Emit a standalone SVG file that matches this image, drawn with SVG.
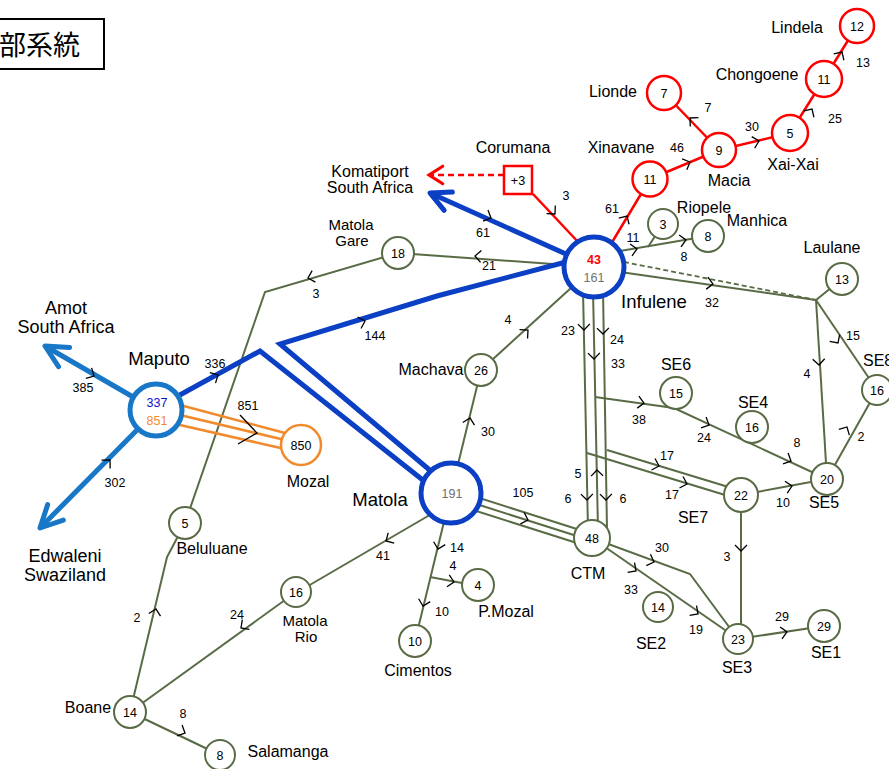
<svg xmlns="http://www.w3.org/2000/svg" xmlns:xlink="http://www.w3.org/1999/xlink" width="889" height="769" viewBox="0 0 889 769">
<style>
  text { font-family: "Liberation Sans", Arial, sans-serif; fill: #000; }
  .e { stroke: #596b45; stroke-width: 2; fill: none; }
  .ed { stroke: #596b45; stroke-width: 1.8; fill: none; stroke-dasharray: 5 3; }
  .r { stroke: #ff0000; stroke-width: 2.5; fill: none; }
  .rd { stroke: #ff0000; stroke-width: 2.5; fill: none; stroke-dasharray: 6 4; }
  .b { stroke: #0b3fc4; stroke-width: 5; fill: none; stroke-linejoin: miter; }
  .lb { stroke: #1877c6; stroke-width: 5; fill: none; }
  .o { stroke: #f28a2c; stroke-width: 2.5; fill: none; }
  .ch { stroke: #000; stroke-width: 1.3; fill: none; }
  .n circle { fill: #fff; stroke: #596b45; stroke-width: 2; }
  .rn circle, .rn rect { fill: #fff; stroke: #ff0000; stroke-width: 2.5; }
  .hub circle { fill: #fff; stroke: #0b3fc4; stroke-width: 5; }
  .cn { font-size: 12.5px; text-anchor: middle; }
  .num { font-size: 12.5px; text-anchor: middle; }
  .lbl { font-size: 16px; text-anchor: middle; }
  .lbl2 { font-size: 15px; text-anchor: middle; }
  .big { font-size: 18.5px; text-anchor: middle; }
  .big2 { font-size: 18px; text-anchor: middle; }
</style>
<defs>
  <path id="ch" class="ch" d="M-6,-6 L0,0 L-6,6"/>
  <marker id="hb" markerUnits="userSpaceOnUse" markerWidth="40" markerHeight="40" viewBox="-25 -20 30 40" refX="0" refY="0" orient="auto">
    <path d="M-20,-10 L0,0 L-20,10" fill="none" stroke="#0b3fc4" stroke-width="5" stroke-linecap="round" stroke-linejoin="round"/>
  </marker>
  <marker id="hlb" markerUnits="userSpaceOnUse" markerWidth="40" markerHeight="40" viewBox="-25 -20 30 40" refX="0" refY="0" orient="auto">
    <path d="M-22,-11 L0,0 L-22,11" fill="none" stroke="#1877c6" stroke-width="5" stroke-linecap="round" stroke-linejoin="round"/>
  </marker>
  <marker id="hr" markerUnits="userSpaceOnUse" markerWidth="30" markerHeight="30" viewBox="-15 -12 20 24" refX="0" refY="0" orient="auto">
    <path d="M-11,-7 L0,0 L-11,7" fill="none" stroke="#ff0000" stroke-width="2.5" stroke-linecap="round"/>
  </marker>
</defs>

<rect width="889" height="769" fill="#fff"/>

<!-- title box -->
<g id="title">
  <rect x="-10" y="19" width="114" height="50" fill="#fff" stroke="#000" stroke-width="2"/>
  <text x="-1" y="55" style="font-family:'Noto Sans CJK JP','Noto Sans CJK SC',sans-serif;font-size:27px">部系統</text>
</g>

<g id="connectors">
  <!-- green 66kV lines -->
  <line class="e" x1="594" y1="267" x2="398" y2="253"/>
  <polyline class="e" points="398,253 265,292 185,523"/>
  <polyline class="e" points="185,523 167,557 130,712"/>
  <line class="e" x1="481" y1="370" x2="594" y2="267"/>
  <line class="e" x1="451" y1="493" x2="481" y2="370"/>
  <line class="e" x1="620" y1="251" x2="708" y2="236"/>
  <line class="e" x1="648" y1="247" x2="663" y2="224"/>
  <line class="e" x1="620" y1="272" x2="816" y2="300"/>
  <line class="ed" x1="624" y1="262" x2="816" y2="300"/>
  <line class="e" x1="816" y1="300" x2="842" y2="279"/>
  <line class="e" x1="816" y1="300" x2="827" y2="479"/>
  <line class="e" x1="816" y1="300" x2="877" y2="390"/>
  <line class="e" x1="827" y1="479" x2="877" y2="390"/>
  <line class="e" x1="583" y1="290" x2="588" y2="530"/>
  <line class="e" x1="593" y1="290" x2="598" y2="530"/>
  <line class="e" x1="603" y1="290" x2="607" y2="530"/>
  <polyline class="e" points="595,397 674,408 827,479"/>
  <line class="e" x1="607" y1="450" x2="735" y2="489"/>
  <line class="e" x1="587" y1="453" x2="735" y2="498"/>
  <line class="e" x1="741" y1="495" x2="827" y2="479"/>
  <line class="e" x1="741" y1="495" x2="741" y2="639"/>
  <line class="e" x1="738" y1="639" x2="824" y2="626"/>
  <polyline class="e" points="592,538 690,574 738,639"/>
  <line class="e" x1="592" y1="538" x2="738" y2="639"/>
  <line class="e" x1="470" y1="495" x2="580" y2="530"/>
  <line class="e" x1="470" y1="502" x2="580" y2="537"/>
  <line class="e" x1="470" y1="509" x2="580" y2="544"/>
  <line class="e" x1="440" y1="509" x2="296" y2="593"/>
  <line class="e" x1="296" y1="592" x2="130" y2="712"/>
  <line class="e" x1="130" y1="712" x2="220" y2="755"/>
  <line class="e" x1="451" y1="493" x2="415" y2="641"/>
  <line class="e" x1="430" y1="577" x2="478" y2="586"/>

  <!-- red northern lines -->
  <line class="r" x1="533" y1="194" x2="580" y2="244"/>
  <line class="r" x1="605" y1="254" x2="650" y2="179"/>
  <line class="r" x1="650" y1="179" x2="719" y2="150"/>
  <line class="r" x1="719" y1="150" x2="664" y2="93"/>
  <line class="r" x1="719" y1="150" x2="790" y2="133"/>
  <line class="r" x1="790" y1="133" x2="824" y2="79"/>
  <line class="r" x1="824" y1="79" x2="857" y2="26"/>
  <line class="rd" x1="504" y1="175" x2="429" y2="175" marker-end="url(#hr)"/>

  <!-- orange Mozal triple line -->
  <line class="o" x1="180" y1="405" x2="285" y2="433"/>
  <line class="o" x1="180" y1="415" x2="285" y2="440"/>
  <line class="o" x1="180" y1="425" x2="285" y2="449"/>

  <!-- blue 275kV / 400kV lines -->
  <line class="b" x1="566" y1="254" x2="430" y2="193" marker-end="url(#hb)"/>
  <polyline class="b" points="566,262 437,296 280,344 432,472"/>
  <polyline class="b" points="178,396 260,351 424,481"/>
  <line class="lb" x1="140" y1="401" x2="45" y2="346" marker-end="url(#hlb)"/>
  <line class="lb" x1="140" y1="427" x2="40" y2="528" marker-end="url(#hlb)"/>

  <!-- flow direction ticks -->
  <use href="#ch" transform="translate(555,214) rotate(47)"/>
  <use href="#ch" transform="translate(627,216) rotate(-59)"/>
  <use href="#ch" transform="translate(690,162) rotate(-23)"/>
  <use href="#ch" transform="translate(690,118) rotate(-137)"/>
  <use href="#ch" transform="translate(759,141) rotate(-14)"/>
  <use href="#ch" transform="translate(812,109) rotate(-58)"/>
  <use href="#ch" transform="translate(842,52) rotate(-58)"/>
  <use href="#ch" transform="translate(491,218) rotate(24)"/>
  <use href="#ch" transform="translate(475,256) rotate(184)"/>
  <use href="#ch" transform="translate(308,278) rotate(164)"/>
  <use href="#ch" transform="translate(365,321) rotate(-17)"/>
  <use href="#ch" transform="translate(218,375) rotate(-28)"/>
  <use href="#ch" transform="translate(94,376) rotate(29)"/>
  <use href="#ch" transform="translate(110,460) rotate(-46)"/>
  <use href="#ch" transform="translate(528,330) rotate(-42)"/>
  <use href="#ch" transform="translate(470,418) rotate(-77)"/>
  <use href="#ch" transform="translate(584,330) rotate(89)"/>
  <use href="#ch" transform="translate(603,334) rotate(89)"/>
  <use href="#ch" transform="translate(594,359) rotate(89)"/>
  <use href="#ch" transform="translate(597,470) rotate(-91)"/>
  <use href="#ch" transform="translate(587,500) rotate(89)"/>
  <use href="#ch" transform="translate(606,500) rotate(89)"/>
  <use href="#ch" transform="translate(644,403) rotate(8)"/>
  <use href="#ch" transform="translate(709,425) rotate(25)"/>
  <use href="#ch" transform="translate(791,461) rotate(25)"/>
  <use href="#ch" transform="translate(659,466) rotate(17)"/>
  <use href="#ch" transform="translate(687,484) rotate(17)"/>
  <use href="#ch" transform="translate(792,486) rotate(-11)"/>
  <use href="#ch" transform="translate(741,551) rotate(90)"/>
  <use href="#ch" transform="translate(787,632) rotate(-9)"/>
  <use href="#ch" transform="translate(654,562) rotate(20)"/>
  <use href="#ch" transform="translate(636,571) rotate(35)"/>
  <use href="#ch" transform="translate(698,614) rotate(35)"/>
  <use href="#ch" transform="translate(819,365) rotate(87)"/>
  <use href="#ch" transform="translate(838,343) rotate(56)"/>
  <use href="#ch" transform="translate(847,427) rotate(-61)"/>
  <use href="#ch" transform="translate(713,284) rotate(8)"/>
  <use href="#ch" transform="translate(637,249) rotate(-9)"/>
  <use href="#ch" transform="translate(686,240) rotate(-9)"/>
  <use href="#ch" transform="translate(528,520) rotate(18)"/>
  <use href="#ch" transform="translate(386,541) rotate(150)"/>
  <use href="#ch" transform="translate(241,628) rotate(144)"/>
  <use href="#ch" transform="translate(156,609) rotate(-77)"/>
  <use href="#ch" transform="translate(185,733) rotate(25)"/>
  <use href="#ch" transform="translate(438,549) rotate(104)"/>
  <use href="#ch" transform="translate(423,606) rotate(104)"/>
  <use href="#ch" transform="translate(454,582) rotate(11)"/>
  <polyline class="ch" points="240,415 257,433 238,444"/>

  <!-- flow values -->
  <text class="num" x="566" y="200">3</text>
  <text class="num" x="612" y="213">61</text>
  <text class="num" x="677" y="152">46</text>
  <text class="num" x="708" y="112">7</text>
  <text class="num" x="752" y="131">30</text>
  <text class="num" x="835" y="123">25</text>
  <text class="num" x="863" y="67">13</text>
  <text class="num" x="633" y="242">11</text>
  <text class="num" x="684" y="261">8</text>
  <text class="num" x="483" y="237">61</text>
  <text class="num" x="489" y="270">21</text>
  <text class="num" x="316" y="298">3</text>
  <text class="num" x="375" y="340">144</text>
  <text class="num" x="508" y="324">4</text>
  <text class="num" x="488" y="436">30</text>
  <text class="num" x="568" y="335">23</text>
  <text class="num" x="617" y="344">24</text>
  <text class="num" x="618" y="368">33</text>
  <text class="num" x="712" y="307">32</text>
  <text class="num" x="853" y="340">15</text>
  <text class="num" x="807" y="378">4</text>
  <text class="num" x="639" y="424">38</text>
  <text class="num" x="704" y="442">24</text>
  <text class="num" x="797" y="447">8</text>
  <text class="num" x="861" y="441">2</text>
  <text class="num" x="667" y="460">17</text>
  <text class="num" x="672" y="499">17</text>
  <text class="num" x="783" y="507">10</text>
  <text class="num" x="578" y="478">5</text>
  <text class="num" x="568" y="503">6</text>
  <text class="num" x="623" y="503">6</text>
  <text class="num" x="727" y="561">3</text>
  <text class="num" x="662" y="552">30</text>
  <text class="num" x="631" y="594">33</text>
  <text class="num" x="696" y="634">19</text>
  <text class="num" x="782" y="621">29</text>
  <text class="num" x="523" y="497">105</text>
  <text class="num" x="457" y="552">14</text>
  <text class="num" x="453" y="570">4</text>
  <text class="num" x="442" y="616">10</text>
  <text class="num" x="383" y="560">41</text>
  <text class="num" x="237" y="619">24</text>
  <text class="num" x="137" y="622">2</text>
  <text class="num" x="183" y="718">8</text>
  <text class="num" x="83" y="392">385</text>
  <text class="num" x="215" y="368">336</text>
  <text class="num" x="115" y="487">302</text>
  <text class="num" x="248" y="410">851</text>
</g>

<!-- substations -->
<g id="infulene" class="hub">
  <circle cx="594" cy="267" r="30"/>
  <text class="cn" x="594" y="264" style="fill:#ff0000;font-weight:bold">43</text>
  <text class="cn" x="594" y="282" style="fill:#707070">161</text>
  <text class="big" x="654" y="308">Infulene</text>
</g>
<g id="matola" class="hub">
  <circle cx="451" cy="493" r="30"/>
  <text class="cn" x="452" y="498" style="fill:#707070">191</text>
  <text class="big" x="380" y="506">Matola</text>
</g>
<g id="maputo">
  <circle cx="156" cy="410" r="26" fill="#fff" stroke="#1877c6" stroke-width="5"/>
  <text class="cn" x="157" y="407" style="fill:#1010c8">337</text>
  <text class="cn" x="157" y="425" style="fill:#f28a2c">851</text>
  <text class="big" x="159" y="365">Maputo</text>
</g>
<g id="mozal">
  <circle cx="301" cy="445" r="20" fill="#fff" stroke="#f28a2c" stroke-width="2.5"/>
  <text class="cn" x="301" y="450">850</text>
  <text class="lbl" x="308" y="487">Mozal</text>
</g>
<g id="amot">
  <text class="big2" x="66" y="314">Amot</text>
  <text class="big2" x="66" y="333">South Africa</text>
</g>
<g id="edwaleni">
  <text class="big2" x="65" y="562">Edwaleni</text>
  <text class="big2" x="65" y="581">Swaziland</text>
</g>
<g id="komatiport">
  <text class="lbl" x="370" y="177">Komatiport</text>
  <text class="lbl" x="370" y="193">South Africa</text>
</g>
<g id="corumana" class="rn">
  <rect x="504" y="166" width="28" height="28"/>
  <text class="cn" x="518" y="185">+3</text>
  <text class="lbl" x="513" y="153">Corumana</text>
</g>
<g id="xinavane" class="rn">
  <circle cx="650" cy="179" r="17.5"/>
  <text class="cn" x="650" y="184">11</text>
  <text class="lbl" x="621" y="153">Xinavane</text>
</g>
<g id="macia" class="rn">
  <circle cx="719" cy="150" r="17"/>
  <text class="cn" x="719" y="155">9</text>
  <text class="lbl" x="729" y="186">Macia</text>
</g>
<g id="lionde" class="rn">
  <circle cx="664" cy="93" r="17"/>
  <text class="cn" x="664" y="98">7</text>
  <text class="lbl" x="613" y="97">Lionde</text>
</g>
<g id="xai-xai" class="rn">
  <circle cx="790" cy="133" r="18"/>
  <text class="cn" x="790" y="138">5</text>
  <text class="lbl" x="793" y="170">Xai-Xai</text>
</g>
<g id="chongoene" class="rn">
  <circle cx="824" cy="79" r="18"/>
  <text class="cn" x="824" y="84">11</text>
  <text class="lbl" x="757" y="80">Chongoene</text>
</g>
<g id="lindela" class="rn">
  <circle cx="857" cy="26" r="17"/>
  <text class="cn" x="857" y="31">12</text>
  <text class="lbl" x="797" y="33">Lindela</text>
</g>
<g id="riopele" class="n">
  <circle cx="663" cy="224" r="15"/>
  <text class="cn" x="663" y="229">3</text>
  <text class="lbl" x="704" y="213">Riopele</text>
</g>
<g id="manhica" class="n">
  <circle cx="708" cy="236" r="16"/>
  <text class="cn" x="708" y="241">8</text>
  <text class="lbl" x="757" y="226">Manhica</text>
</g>
<g id="laulane" class="n">
  <circle cx="842" cy="279" r="16"/>
  <text class="cn" x="842" y="284">13</text>
  <text class="lbl" x="832" y="253">Laulane</text>
</g>
<g id="se8" class="n">
  <circle cx="877" cy="390" r="15"/>
  <text class="cn" x="877" y="395">16</text>
  <text class="lbl" x="863" y="366" style="text-anchor:start">SE8</text>
</g>
<g id="se5" class="n">
  <circle cx="827" cy="479" r="16"/>
  <text class="cn" x="827" y="484">20</text>
  <text class="lbl" x="824" y="508">SE5</text>
</g>
<g id="se6" class="n">
  <circle cx="676" cy="393" r="16"/>
  <text class="cn" x="676" y="398">15</text>
  <text class="lbl" x="676" y="370">SE6</text>
</g>
<g id="se4" class="n">
  <circle cx="752" cy="427" r="16"/>
  <text class="cn" x="752" y="432">16</text>
  <text class="lbl" x="753" y="408">SE4</text>
</g>
<g id="se7" class="n">
  <circle cx="741" cy="495" r="17"/>
  <text class="cn" x="741" y="500">22</text>
  <text class="lbl" x="693" y="523">SE7</text>
</g>
<g id="ctm" class="n">
  <circle cx="592" cy="538" r="18"/>
  <text class="cn" x="592" y="543">48</text>
  <text class="lbl" x="588" y="579">CTM</text>
</g>
<g id="se3" class="n">
  <circle cx="738" cy="639" r="15"/>
  <text class="cn" x="738" y="644">23</text>
  <text class="lbl" x="737" y="673">SE3</text>
</g>
<g id="se1" class="n">
  <circle cx="824" cy="626" r="16"/>
  <text class="cn" x="824" y="631">29</text>
  <text class="lbl" x="826" y="658">SE1</text>
</g>
<g id="se2" class="n">
  <circle cx="658" cy="607" r="15"/>
  <text class="cn" x="658" y="612">14</text>
  <text class="lbl" x="651" y="649">SE2</text>
</g>
<g id="machava" class="n">
  <circle cx="481" cy="370" r="16"/>
  <text class="cn" x="481" y="375">26</text>
  <text class="lbl" x="431" y="375">Machava</text>
</g>
<g id="matola-gare" class="n">
  <circle cx="398" cy="253" r="16"/>
  <text class="cn" x="398" y="258">18</text>
  <text class="lbl2" x="351" y="230">Matola</text>
  <text class="lbl2" x="352" y="246">Gare</text>
</g>
<g id="beluluane" class="n">
  <circle cx="185" cy="523" r="16"/>
  <text class="cn" x="185" y="528">5</text>
  <text class="lbl" x="212" y="554">Beluluane</text>
</g>
<g id="boane" class="n">
  <circle cx="130" cy="712" r="16"/>
  <text class="cn" x="130" y="717">14</text>
  <text class="lbl" x="88" y="713">Boane</text>
</g>
<g id="salamanga" class="n">
  <circle cx="220" cy="755" r="15"/>
  <text class="cn" x="220" y="760">8</text>
  <text class="lbl" x="288" y="757">Salamanga</text>
</g>
<g id="matola-rio" class="n">
  <circle cx="296" cy="592" r="15"/>
  <text class="cn" x="296" y="597">16</text>
  <text class="lbl2" x="305" y="626">Matola</text>
  <text class="lbl2" x="306" y="642">Rio</text>
</g>
<g id="cimentos" class="n">
  <circle cx="415" cy="641" r="16"/>
  <text class="cn" x="415" y="646">10</text>
  <text class="lbl" x="418" y="676">Cimentos</text>
</g>
<g id="p-mozal" class="n">
  <circle cx="478" cy="585" r="16"/>
  <text class="cn" x="478" y="590">4</text>
  <text class="lbl" x="506" y="617">P.Mozal</text>
</g>
</svg>
